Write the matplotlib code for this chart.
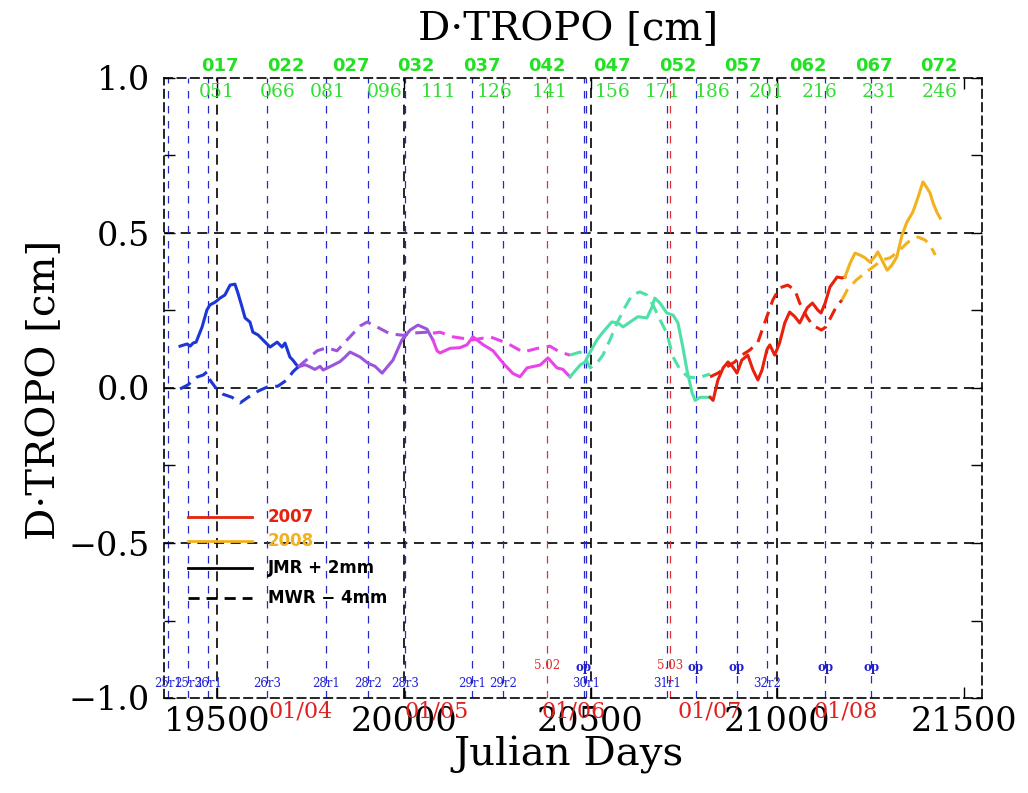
import numpy as np
import matplotlib
matplotlib.use("Agg")
import matplotlib.pyplot as plt
import matplotlib.transforms as mtransforms
from matplotlib.ticker import MultipleLocator

# ---- data (Julian days since 1950, D-TROPO in cm) ----
# 2003 (blue)
d2003_jmr = [19401, 19420, 19428, 19436, 19444, 19460, 19473, 19481, 19495, 19508, 19521, 19535,
             19548, 19556, 19567, 19575, 19588, 19596, 19610, 19623, 19642, 19661, 19674, 19682,
             19695, 19703, 19717]
v2003_jmr = [0.135, 0.142, 0.135, 0.145, 0.148, 0.197, 0.252, 0.268, 0.277, 0.29, 0.30, 0.332,
             0.335, 0.306, 0.261, 0.226, 0.213, 0.18, 0.171, 0.155, 0.132, 0.148, 0.132, 0.145,
             0.10, 0.09, 0.068]
d2003_mwr = [19401, 19422, 19446, 19463, 19473, 19481, 19495, 19516, 19540, 19562, 19583, 19610,
             19634, 19663, 19687, 19703, 19717]
v2003_mwr = [-0.003, 0.01, 0.035, 0.042, 0.052, 0.026, 0.003, -0.02, -0.03, -0.048, -0.03, -0.01,
             0.003, 0.006, 0.026, 0.052, 0.068]
# 2004 (purple)
d2004_jmr = [19717, 19736, 19749, 19762, 19776, 19784, 19811, 19829, 19843, 19856, 19883, 19904,
             19923, 19942, 19971, 19995, 20017, 20038, 20062, 20078]
v2004_jmr = [0.068, 0.075, 0.068, 0.06, 0.07, 0.058, 0.074, 0.085, 0.10, 0.116, 0.10, 0.08,
             0.07, 0.048, 0.09, 0.155, 0.187, 0.203, 0.19, 0.155]
d2004_mwr = [19717, 19768, 19794, 19821, 19848, 19883, 19902, 19928, 19963, 19998, 20035, 20062, 20078]
v2004_mwr = [0.068, 0.12, 0.13, 0.12, 0.155, 0.20, 0.213, 0.197, 0.175, 0.17, 0.178, 0.18, 0.177]
# 2005 (magenta)
d2005_jmr = [20078, 20089, 20097, 20124, 20150, 20169, 20185, 20212, 20239, 20266, 20292, 20311,
             20330, 20365, 20386, 20410, 20426, 20445]
v2005_jmr = [0.155, 0.12, 0.113, 0.128, 0.13, 0.139, 0.165, 0.14, 0.12, 0.08, 0.047, 0.036,
             0.065, 0.074, 0.097, 0.065, 0.06, 0.036]
d2005_mwr = [20078, 20097, 20132, 20185, 20231, 20276, 20319, 20365, 20391, 20418, 20445]
v2005_mwr = [0.177, 0.18, 0.165, 0.155, 0.165, 0.145, 0.116, 0.13, 0.135, 0.116, 0.106]
# 2006 (green)
d2006_jmr = [20445, 20472, 20485, 20499, 20517, 20533, 20557, 20573, 20587, 20606, 20627, 20651,
             20664, 20672, 20686, 20704, 20721, 20734, 20747, 20758, 20772, 20780, 20793, 20812, 20820]
v2006_jmr = [0.036, 0.074, 0.084, 0.116, 0.155, 0.18, 0.213, 0.21, 0.197, 0.213, 0.23, 0.226,
             0.26, 0.29, 0.274, 0.242, 0.235, 0.21, 0.132, 0.058, -0.016, -0.04, -0.03, -0.03, -0.03]
d2006_mwr = [20445, 20472, 20485, 20499, 20517, 20533, 20552, 20571, 20592, 20611, 20632, 20651,
             20667, 20686, 20704, 20721, 20740, 20761, 20785, 20812, 20820]
v2006_mwr = [0.106, 0.116, 0.10, 0.065, 0.08, 0.106, 0.155, 0.21, 0.26, 0.30, 0.31, 0.30,
             0.268, 0.22, 0.177, 0.10, 0.058, 0.036, 0.032, 0.042, 0.045]
# 2007 (red)
d2007_jmr = [20820, 20828, 20841, 20855, 20868, 20881, 20892, 20905, 20921, 20935, 20948, 20959,
             20972, 20980, 20993, 21006, 21020, 21033, 21047, 21060, 21073, 21081, 21094, 21108,
             21117, 21128, 21141, 21160, 21173, 21181]
v2007_jmr = [-0.03, -0.04, 0.026, 0.065, 0.084, 0.068, 0.048, 0.09, 0.106, 0.058, 0.026, 0.058,
             0.123, 0.139, 0.106, 0.145, 0.21, 0.245, 0.23, 0.21, 0.242, 0.26, 0.274, 0.252,
             0.242, 0.274, 0.326, 0.358, 0.355, 0.358]
d2007_mwr = [20820, 20841, 20865, 20886, 20905, 20927, 20948, 20972, 20988, 21006, 21028, 21047,
             21060, 21079, 21094, 21118, 21130, 21144, 21157, 21173]
v2007_mwr = [0.036, 0.048, 0.068, 0.084, 0.106, 0.123, 0.148, 0.23, 0.284, 0.323, 0.332, 0.316,
             0.274, 0.23, 0.203, 0.187, 0.197, 0.23, 0.26, 0.284]
# 2008 (orange)
d2008_jmr = [21181, 21195, 21208, 21221, 21235, 21248, 21262, 21269, 21280, 21294, 21307, 21320,
             21334, 21347, 21363, 21377, 21390, 21401, 21409, 21417, 21428, 21436]
v2008_jmr = [0.358, 0.403, 0.435, 0.429, 0.42, 0.406, 0.425, 0.439, 0.413, 0.38, 0.397, 0.423,
             0.494, 0.535, 0.568, 0.616, 0.665, 0.645, 0.629, 0.597, 0.565, 0.548]
d2008_mwr = [21173, 21187, 21211, 21235, 21256, 21280, 21302, 21323, 21350, 21377, 21396, 21409, 21423]
v2008_mwr = [0.284, 0.316, 0.348, 0.371, 0.39, 0.413, 0.42, 0.439, 0.471, 0.487, 0.477, 0.461, 0.429]

year_colors = ["#1c36d8", "#9b55dc", "#e844e8", "#4fe0a8", "#e8200c", "#f2b21e"]

# event lines
blue_days = [19369, 19422, 19476, 19634, 19792, 19904, 20004, 20183, 20266, 20482, 20488,
             20705, 20782, 20892, 20972, 21128, 21251]
red_days = [20383, 20713]
red_labels = ["5.02", "5.03"]
version_days = [19369, 19422, 19476, 19634, 19792, 19904, 20004, 20183, 20266, 20488, 20705, 20972]
version_labels = ["25r1", "25r3", "26r1", "26r3", "28r1", "28r2", "28r3", "29r1", "29r2",
                  "30r1", "31r1", "32r2"]
op_days = [20482, 20782, 20892, 21128, 21251]

# year starts
year_start_days = [19723, 20089, 20454, 20819, 21184]
year_start_labels = ["01/04", "01/05", "01/06", "01/07", "01/08"]

# cycle labels on top
env_days = [19508, 19683, 19858, 20033, 20208, 20383, 20558, 20733, 20908, 21083, 21258, 21433]
env_cycles = ["017", "022", "027", "032", "037", "042", "047", "052", "057", "062", "067", "072"]
jas_days = [19500, 19661, 19797, 19950, 20092, 20244, 20391, 20560, 20694, 20828, 20972, 21114,
            21275, 21435]
jas_cycles = ["051", "066", "081", "096", "111", "126", "141", "156", "171", "186", "201", "216",
              "231", "246"]

serif = ["DejaVu Serif"]
sans = ["DejaVu Sans"]

fig = plt.figure(figsize=(10.28, 7.93), dpi=100)
ax = fig.add_axes([164 / 1028, 1 - 698 / 793, (982 - 164) / 1028, (698 - 78) / 793])
ax.set_xlim(19358, 21548)
ax.set_ylim(-1.0, 1.0)

# frame dashed
for s in ax.spines.values():
    s.set_linestyle((0, (5, 3)))
    s.set_linewidth(1.2)

# grid lines
for yv in [0.5, 0.0, -0.5]:
    ax.axhline(yv, color="black", ls=(0, (6, 4)), lw=1.2, zorder=1)
for xv in [19500, 20000, 20500, 21000]:
    ax.axvline(xv, color="black", ls=(0, (6, 4)), lw=1.2, zorder=1)

for d in blue_days:
    ax.axvline(d, color="#2828c8", ls=(0, (6, 6)), lw=0.9, zorder=1)
for d in red_days:
    ax.axvline(d, color="#e03030", ls=(0, (6, 6)), lw=0.9, zorder=1)

# curves
jmr = [(d2003_jmr, v2003_jmr), (d2004_jmr, v2004_jmr), (d2005_jmr, v2005_jmr),
       (d2006_jmr, v2006_jmr), (d2007_jmr, v2007_jmr), (d2008_jmr, v2008_jmr)]
mwr = [(d2003_mwr, v2003_mwr), (d2004_mwr, v2004_mwr), (d2005_mwr, v2005_mwr),
       (d2006_mwr, v2006_mwr), (d2007_mwr, v2007_mwr), (d2008_mwr, v2008_mwr)]
for (d, v), c in zip(jmr, year_colors):
    ax.plot(d, v, color=c, lw=2.2, zorder=3)
for (d, v), c in zip(mwr, year_colors):
    ax.plot(d, v, color=c, lw=2.2, ls=(0, (4, 2.5)), zorder=3)

# annotations inside the frame
for d, lab in zip(version_days, version_labels):
    ax.text(d, -0.952, lab, color="#2020d0", fontsize=8.5, ha="center", va="center",
            family=serif)
for d in op_days:
    ax.text(d, -0.90, "op", color="#2020d0", fontsize=8.5, ha="center", va="center",
            family=serif, fontweight="bold")
for d, lab in zip(red_days, red_labels):
    ax.text(d, -0.895, lab, color="#e03030", fontsize=8.5, ha="center", va="center",
            family=serif)

# labels below the axis (year starts)
trans_b = mtransforms.blended_transform_factory(ax.transData, ax.transAxes)
for d, lab in zip(year_start_days, year_start_labels):
    ax.text(d, -0.022, lab, color="#e02020", fontsize=16, ha="center", va="center",
            family=serif, transform=trans_b, zorder=5)

# cycle labels on top
for d, lab in zip(env_days, env_cycles):
    ax.text(d, 1.02, lab, color="#22e022", fontsize=13, fontweight="bold", ha="center",
            va="center", family=sans, transform=trans_b)
for d, lab in zip(jas_days, jas_cycles):
    ax.text(d, 0.977, lab, color="#33dd33", fontsize=13.5, ha="center", va="center",
            family=serif, transform=trans_b)

# legend
leg_items = [("2007", "#e8200c", "-"), ("2008", "#f2b21e", "-"),
             ("JMR + 2mm", "black", "-"), ("MWR \u2212 4mm", "black", (0, (4, 2.5)))]
leg_y = [0.292, 0.253, 0.210, 0.161]
for (lab, c, ls), yy in zip(leg_items, leg_y):
    ax.plot([0.029, 0.108], [yy, yy], color=c, ls=ls, lw=2.0, transform=ax.transAxes, zorder=4)
    ax.text(0.127, yy, lab, color=c, fontsize=12, fontweight="bold", ha="left", va="center",
            family=sans, transform=ax.transAxes)

# ticks
ax.xaxis.set_major_locator(MultipleLocator(500))
ax.yaxis.set_minor_locator(MultipleLocator(0.25))
ax.tick_params(direction="in", which="both", top=True, right=True, length=8, width=1.0)
ax.tick_params(axis="x", pad=6, labelsize=24)
ax.tick_params(axis="y", pad=10, labelsize=24)
ax.set_yticks([-1.0, -0.5, 0.0, 0.5, 1.0])
ax.set_yticklabels(["\u22121.0", "\u22120.5", "0.0", "0.5", "1.0"])
for t in ax.get_xticklabels() + ax.get_yticklabels():
    t.set_family(serif)
    t.set_fontsize(24)

# axis titles
fig.text(569 / 1028, 1 - 755 / 793, "Julian Days", family=serif, fontsize=29,
         ha="center", va="center")
fig.text(45 / 1028, 1 - 390 / 793, "D\u00b7TROPO [cm]", family=serif, fontsize=29,
         ha="center", va="center", rotation=90)
fig.text(568 / 1028, 1 - 30 / 793, "D\u00b7TROPO [cm]", family=serif, fontsize=29,
         ha="center", va="center")

fig.savefig("out.png", dpi=100)
